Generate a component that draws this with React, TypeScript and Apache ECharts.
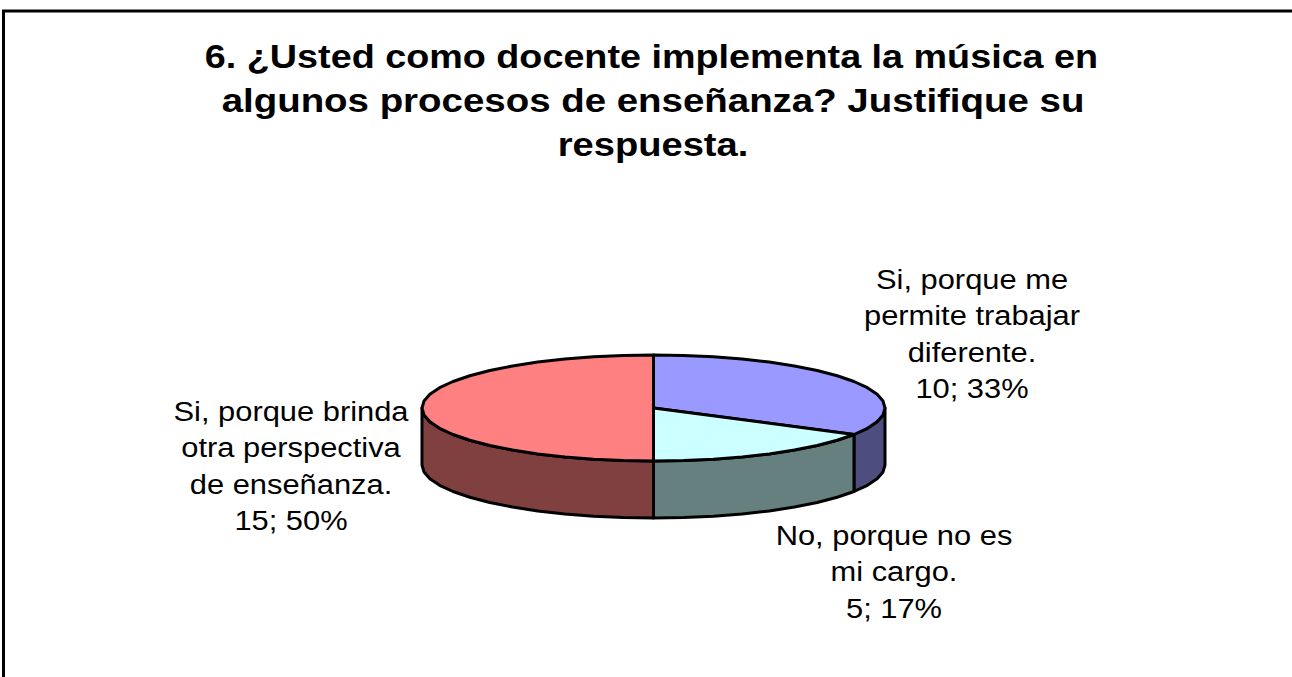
import React, { useEffect, useRef } from "react";
import * as echarts from "echarts";

const TITLE_LINES = [
  "6. ¿Usted como docente implementa la música en",
  "algunos procesos de enseñanza? Justifique su",
  "respuesta.",
];
const CATEGORIES = [
  "Si, porque me\npermite trabajar\ndiferente.",
  "No, porque no es\nmi cargo.",
  "Si, porque brinda\notra perspectiva\nde enseñanza.",
];
const VALUES = [10, 5, 15];
const TOP_COLORS = ["#9999FF", "#CCFFFF", "#FF8080"];
const SIDE_COLORS = ["#4D4D80", "#668080", "#804040"];

const CX = 653.5;
const CY = 408;
const RX = 231.5;
const RY = 53;
const DEPTH = 57;
const LABEL_POS: [number, number][] = [
  [972, 334],
  [894, 572],
  [291, 466],
];
const TITLE_LAYOUT = [
  { x: 651.5, y: 57, scaleX: 1.144 },
  { x: 653, y: 101, scaleX: 1.165 },
  { x: 653, y: 145, scaleX: 1.155 },
];
const FONT = '"Liberation Sans", Arial, sans-serif';
const TEXT_STRETCH = 1.143;
const STEP = Math.PI / 24;

const pt = (a: number, dy = 0): [number, number] => [
  CX + RX * Math.sin(a),
  CY + dy - RY * Math.cos(a),
];

function arc(a0: number, a1: number, dy = 0): [number, number][] {
  const n = Math.max(1, Math.ceil((a1 - a0) / STEP - 1e-6));
  const out: [number, number][] = [];
  for (let i = 0; i <= n; i++) out.push(pt(a0 + ((a1 - a0) * i) / n, dy));
  return out;
}

export default function App() {
  const ref = useRef<HTMLDivElement>(null);
  useEffect(() => {
    document.body.style.margin = "0";
    const chart = echarts.init(ref.current!, null, { renderer: "svg" });
    const total = VALUES.reduce((s, v) => s + v, 0);
    const stroke = { stroke: "#000", lineWidth: 3, lineJoin: "round" as const };

    const renderItem = (params: any, api: any) => {
      const i = params.dataIndex;
      const v = api.value(0) as number;
      const before = VALUES.slice(0, i).reduce((s, x) => s + x, 0);
      const a0 = (before / total) * 2 * Math.PI;
      const a1 = ((before + v) / total) * 2 * Math.PI;
      const children: any[] = [];
      const s0 = Math.max(a0, Math.PI / 2);
      const s1 = Math.min(a1, (3 * Math.PI) / 2);
      if (s1 > s0) {
        children.push({
          type: "polygon",
          shape: { points: [...arc(s0, s1), ...arc(s0, s1, DEPTH).reverse()] },
          style: { fill: SIDE_COLORS[i], ...stroke },
        });
      }
      children.push({
        type: "polygon",
        shape: { points: [[CX, CY], ...arc(a0, a1)] },
        style: { fill: TOP_COLORS[i], ...stroke },
      });
      const pct = Math.round((v / total) * 100);
      children.push({
        type: "text",
        x: LABEL_POS[i][0],
        y: LABEL_POS[i][1],
        scaleX: TEXT_STRETCH,
        style: {
          text: `${CATEGORIES[i]}\n${v}; ${pct}%`,
          fill: "#000",
          font: `27px ${FONT}`,
          lineHeight: 36.5,
          textAlign: "center",
          textVerticalAlign: "middle",
        },
      });
      return { type: "group", children };
    };

    chart.setOption({
      animation: false,
      backgroundColor: "#fff",
      graphic: [
        {
          type: "polyline",
          shape: { points: [[3.5, 677], [3.5, 11], [1292, 11]] },
          style: { fill: "none", stroke: "#000", lineWidth: 3 },
        },
        ...TITLE_LINES.map((line, i) => ({
          type: "text",
          x: TITLE_LAYOUT[i].x,
          y: TITLE_LAYOUT[i].y,
          scaleX: TITLE_LAYOUT[i].scaleX,
          style: {
            text: line,
            fill: "#000",
            font: `bold 33px ${FONT}`,
            textAlign: "center",
            textVerticalAlign: "middle",
          },
        })),
      ],
      series: [
        {
          type: "custom",
          coordinateSystem: "none",
          data: VALUES.map((v) => [v]),
          renderItem,
          silent: true,
        },
      ],
    });
    return () => chart.dispose();
  }, []);
  return <div ref={ref} style={{ width: 1292, height: 677 }} />;
}
